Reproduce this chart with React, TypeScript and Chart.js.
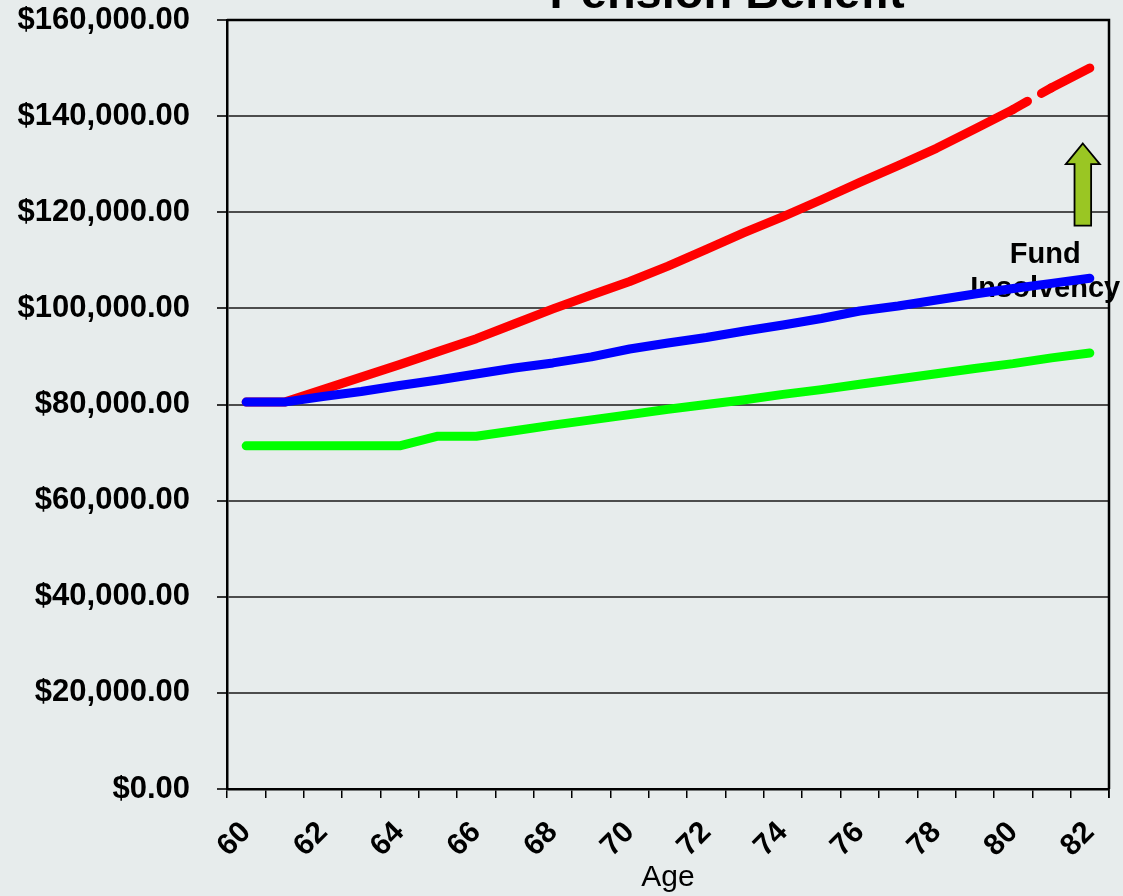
import React, { useEffect, useRef } from 'react';
import { Chart, registerables } from 'chart.js';

Chart.register(...registerables);

const ages = ['60', '61', '62', '63', '64', '65', '66', '67', '68', '69', '70', '71', '72', '73', '74', '75', '76', '77', '78', '79', '80', '81', '82'];

const promisedBenefit = [80500, 80500, 83100, 85700, 88300, 91000, 93700, 96800, 99900, 102800, 105600, 108800, 112300, 115800, 119100, 122600, 126200, 129700, 133300, 137300, 141400, 145900, 150000];

const colaBenefit = [80500, 80500, 81650, 82700, 83950, 85100, 86350, 87600, 88650, 89900, 91550, 92800, 93950, 95300, 96550, 97900, 99450, 100500, 101750, 103000, 104150, 105200, 106250];

const guaranteedBenefit = [71400, 71400, 71400, 71400, 71400, 73400, 73400, 74550, 75700, 76800, 77900, 79000, 80000, 81000, 82100, 83100, 84200, 85300, 86400, 87500, 88500, 89700, 90700];

const yTicks = [0, 20000, 40000, 60000, 80000, 100000, 120000, 140000, 160000];

const chartTitle = 'Pension Benefit';
const xTitle = 'Age';
const noteLines = ['Fund', 'Insolvency'];

const BG = '#e7ecec';
const FONT = "'Liberation Sans', Arial, sans-serif";

const fmtMoney = (v: number) =>
  '$' + v.toLocaleString('en-US', { minimumFractionDigits: 2, maximumFractionDigits: 2 });

export default function App() {
  const ref = useRef<HTMLCanvasElement | null>(null);

  useEffect(() => {
    document.body.style.background = BG;
    const canvas = ref.current!;
    const decor = {
      id: 'decor',
      beforeDraw(chart: any) {
        const ctx = chart.ctx;
        ctx.save();
        ctx.fillStyle = BG;
        ctx.fillRect(0, 0, chart.width, chart.height);
        ctx.restore();
      },
      beforeDatasetsDraw(chart: any) {
        const ctx = chart.ctx;
        const xs = chart.scales.x;
        const ys = chart.scales.y;
        const lastX = xs.getPixelForValue(ages.length - 1);
        // arrow
        const cx = lastX - 7;
        const tipY = ys.getPixelForValue(134300);
        const headY = ys.getPixelForValue(130000);
        const botY = ys.getPixelForValue(117200);
        const hh = 17;
        const sh = 8.3;
        ctx.save();
        ctx.beginPath();
        ctx.moveTo(cx, tipY);
        ctx.lineTo(cx + hh, headY);
        ctx.lineTo(cx + sh, headY);
        ctx.lineTo(cx + sh, botY);
        ctx.lineTo(cx - sh, botY);
        ctx.lineTo(cx - sh, headY);
        ctx.lineTo(cx - hh, headY);
        ctx.closePath();
        ctx.fillStyle = '#9ac623';
        ctx.fill();
        ctx.lineWidth = 1.8;
        ctx.strokeStyle = '#000';
        ctx.stroke();
        // text
        ctx.fillStyle = '#000';
        ctx.font = `bold 29px ${FONT}`;
        ctx.textAlign = 'center';
        ctx.textBaseline = 'alphabetic';
        ctx.fillText(noteLines[0], lastX - 44.6, ys.getPixelForValue(109500));
        ctx.fillText(noteLines[1], lastX - 44.6, ys.getPixelForValue(102430));
        ctx.restore();
      },
      afterDraw(chart: any) {
        const ctx = chart.ctx;
        const a = chart.chartArea;
        ctx.save();
        ctx.strokeStyle = '#000';
        ctx.lineWidth = 2.5;
        ctx.beginPath();
        ctx.moveTo(a.left, a.top);
        ctx.lineTo(a.right, a.top);
        ctx.lineTo(a.right, a.bottom);
        ctx.stroke();
        ctx.lineWidth = 1.5;
        ctx.beginPath();
        ctx.moveTo(a.right, a.bottom);
        ctx.lineTo(a.right, a.bottom + 9);
        ctx.stroke();
        ctx.fillStyle = '#000';
        ctx.font = `bold 47px ${FONT}`;
        ctx.textAlign = 'center';
        ctx.textBaseline = 'alphabetic';
        ctx.fillText(chartTitle, 727, 8);
        ctx.restore();
      },
    };

    const chart = new Chart(canvas, {
      type: 'line',
      data: {
        labels: ages,
        datasets: [
          {
            label: 'COLA benefit',
            data: colaBenefit,
            borderColor: '#0000ff',
            backgroundColor: '#0000ff',
          },
          {
            label: 'Promised benefit',
            data: promisedBenefit,
            borderColor: '#ff0000',
            backgroundColor: '#ff0000',
            segment: {
              borderDash: (c: any) => (c.p0DataIndex === 20 ? [16.5, 16, 200, 16] : undefined),
            },
          },
          {
            label: 'Guaranteed benefit',
            data: guaranteedBenefit,
            borderColor: '#00ff00',
            backgroundColor: '#00ff00',
          },
        ],
      },
      options: {
        responsive: false,
        animation: false,
        layout: { padding: { left: 0, right: 14, top: 20, bottom: 0 } },
        elements: {
          point: { radius: 0, hoverRadius: 0 },
          line: {
            borderWidth: 9,
            tension: 0,
            borderCapStyle: 'round',
            borderJoinStyle: 'round',
            fill: false,
          },
        },
        plugins: {
          legend: { display: false },
          tooltip: { enabled: false },
          title: { display: false },
        },
        scales: {
          x: {
            type: 'category',
            offset: true,
            afterFit: (s: any) => {
              s.height = 107;
              s.paddingLeft = 0;
              s.paddingRight = 0;
            },
            grid: {
              display: true,
              drawOnChartArea: false,
              drawTicks: true,
              tickLength: 9,
              color: '#000',
              lineWidth: 1.5,
              offset: true,
            },
            border: { display: true, color: '#000', width: 2.5 },
            ticks: {
              autoSkip: false,
              minRotation: 45,
              maxRotation: 45,
              padding: 17,
              color: '#000',
              font: { family: FONT, size: 30, weight: 'bold' },
              callback: (_v: any, i: number) => (i % 2 === 0 ? ages[i] : ''),
            },
            title: {
              display: true,
              text: xTitle,
              color: '#000',
              font: { family: FONT, size: 30, weight: 'normal' },
              padding: { top: 0, bottom: 0 },
            },
          },
          y: {
            min: 0,
            max: 160000,
            afterFit: (s: any) => {
              s.width = 227;
              s.paddingTop = 0;
              s.paddingBottom = 0;
            },
            afterBuildTicks: (s: any) => {
              s.ticks = yTicks.map((v) => ({ value: v }));
            },
            grid: {
              color: '#4d4d4d',
              lineWidth: 2,
              tickLength: 10,
              drawTicks: true,
              tickColor: '#333',
            },
            border: { display: true, color: '#000', width: 2.5 },
            ticks: {
              padding: 27,
              color: '#000',
              font: { family: FONT, size: 31, weight: 'bold' },
              callback: (v: any) => fmtMoney(Number(v)),
            },
          },
        },
      } as any,
      plugins: [decor],
    });
    return () => chart.destroy();
  }, []);

  return (
    <div style={{ position: 'absolute', left: 0, top: 0, width: 1123, height: 896, background: BG }}>
      <canvas ref={ref} width={1123} height={896} style={{ display: 'block' }} />
    </div>
  );
}
